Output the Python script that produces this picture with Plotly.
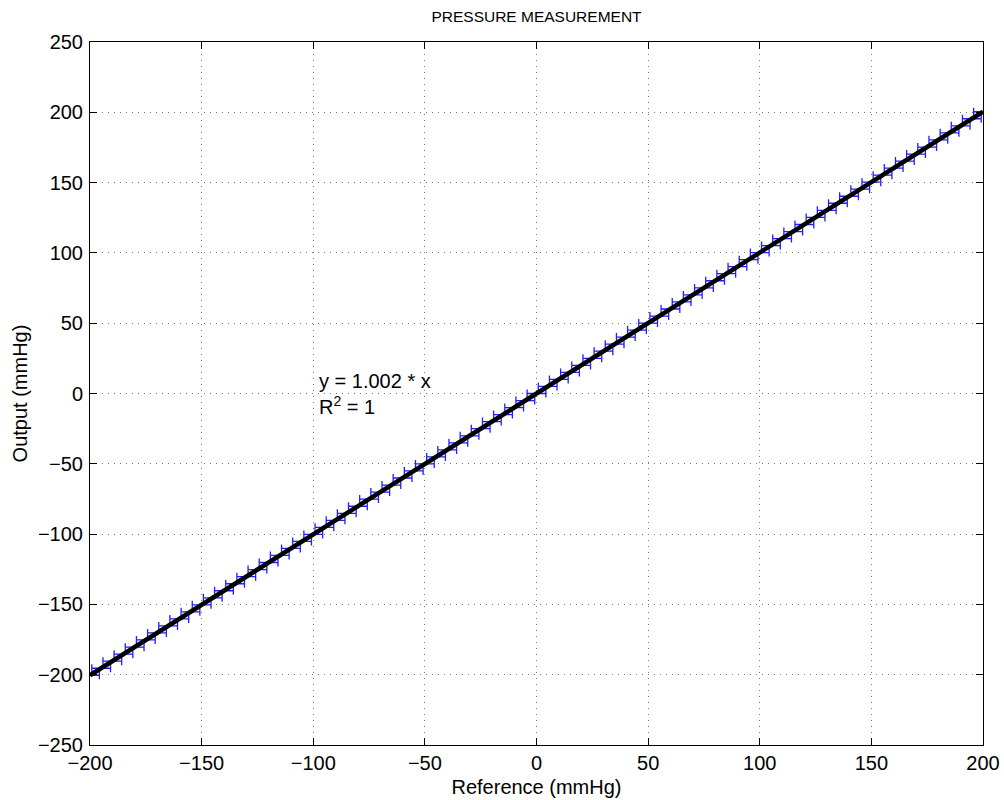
import plotly.graph_objects as go

# Reference pressures (mmHg)
ref_x = [-200, -195, -190, -185, -180, -175, -170, -165, -160, -155,
         -150, -145, -140, -135, -130, -125, -120, -115, -110, -105,
         -100, -95, -90, -85, -80, -75, -70, -65, -60, -55,
         -50, -45, -40, -35, -30, -25, -20, -15, -10, -5,
         0, 5, 10, 15, 20, 25, 30, 35, 40, 45,
         50, 55, 60, 65, 70, 75, 80, 85, 90, 95,
         100, 105, 110, 115, 120, 125, 130, 135, 140, 145,
         150, 155, 160, 165, 170, 175, 180, 185, 190, 195, 200]
# Measured output (mmHg)
out_y = [-200.4, -195.4, -190.4, -185.4, -180.4, -175.3, -170.3, -165.3, -160.3, -155.3,
         -150.3, -145.3, -140.3, -135.3, -130.3, -125.2, -120.2, -115.2, -110.2, -105.2,
         -100.2, -95.2, -90.2, -85.2, -80.2, -75.1, -70.1, -65.1, -60.1, -55.1,
         -50.1, -45.1, -40.1, -35.1, -30.1, -25.0, -20.0, -15.0, -10.0, -5.0,
         0.0, 5.0, 10.0, 15.0, 20.0, 25.0, 30.1, 35.1, 40.1, 45.1,
         50.1, 55.1, 60.1, 65.1, 70.1, 75.1, 80.2, 85.2, 90.2, 95.2,
         100.2, 105.2, 110.2, 115.2, 120.2, 125.2, 130.3, 135.3, 140.3, 145.3,
         150.3, 155.3, 160.3, 165.3, 170.3, 175.3, 180.4, 185.4, 190.4, 195.4, 200.4]
# Reference uncertainty (mmHg, horizontal error bars)
err_x = 4.2

# Linear fit line
fit_x = [-200, 200]
fit_y = [-200.4, 200.4]

x_ticks = [-200, -150, -100, -50, 0, 50, 100, 150, 200]
y_ticks = [-250, -200, -150, -100, -50, 0, 50, 100, 150, 200, 250]

FONT = "Liberation Sans, Arial, Helvetica, sans-serif"
FS = 20

fig = go.Figure()
fig.add_trace(go.Scatter(
    x=ref_x, y=out_y, mode="lines",
    line=dict(color="rgb(30,30,255)", width=1),
    error_x=dict(type="constant", value=err_x, color="rgb(30,30,255)",
                 thickness=1.3, width=4),
    cliponaxis=False, showlegend=False,
))
fig.add_trace(go.Scatter(
    x=fit_x, y=fit_y, mode="lines",
    line=dict(color="black", width=4.5),
    showlegend=False,
))

fig.add_annotation(
    x=-100, y=0, xref="x", yref="y",
    text="y = 1.002 * x<br>R<sup>2</sup> = 1",
    showarrow=False, xanchor="left", yanchor="middle", align="left",
    xshift=4, font=dict(family=FONT, size=FS, color="black"),
)

axis_common = dict(
    showline=True, linecolor="black", linewidth=1, mirror="ticks",
    ticks="inside", ticklen=7, tickcolor="black", tickwidth=1,
    showgrid=True, gridcolor="rgb(120,120,120)", gridwidth=1, griddash="1px,5px",
    zeroline=False, automargin=False,
    tickfont=dict(family=FONT, size=FS, color="black"),
)

fig.update_xaxes(range=[-200, 200], tickvals=x_ticks,
                 title=dict(text="Reference (mmHg)", standoff=6,
                            font=dict(family=FONT, size=FS, color="black")),
                 **axis_common)
fig.update_yaxes(range=[-250, 250], tickvals=y_ticks, ticklabelstandoff=2,
                 title=dict(text="Output (mmHg)", standoff=4,
                            font=dict(family=FONT, size=FS, color="black")),
                 **axis_common)

fig.update_layout(
    width=1004, height=800,
    margin=dict(l=90, r=21, t=42, b=55),
    paper_bgcolor="white", plot_bgcolor="white",
    title=dict(text="PRESSURE MEASUREMENT", x=(90 + 983) / 2 / 1004, xanchor="center",
               y=1 - 17 / 800, yanchor="middle",
               font=dict(family=FONT, size=15.5, color="black")),
    font=dict(family=FONT, size=FS, color="black"),
)

fig.write_html("out.html")
